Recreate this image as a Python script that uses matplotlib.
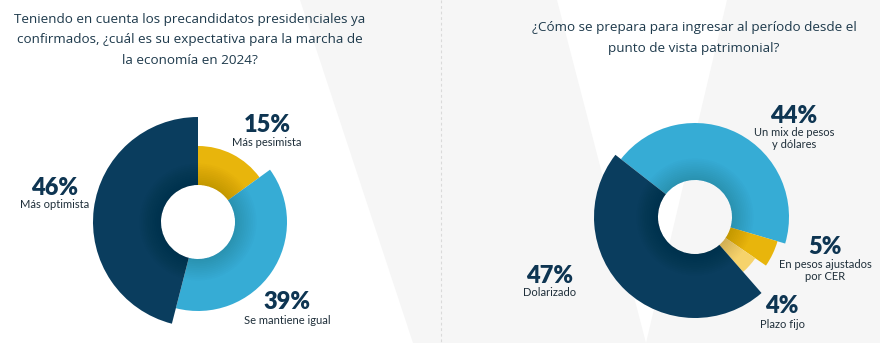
import matplotlib
matplotlib.use("Agg")
import matplotlib.pyplot as plt
from matplotlib.patches import Polygon, Wedge

# survey answers, left question
left_labels = ["Más pesimista", "Se mantiene igual", "Más optimista"]
left_values = [15, 39, 46]

# survey answers, right question
right_labels = ["Un mix de pesos\ny dólares", "En pesos ajustados\npor CER", "Plazo fijo", "Dolarizado"]
right_values = [44, 5, 4, 47]

left_title = ("Teniendo en cuenta los precandidatos presidenciales ya\n"
              "confirmados, ¿cuál es su expectativa para la marcha de\n"
              "la economía en 2024?")
right_title = ("¿Cómo se prepara para ingresar al período desde el\n"
               "punto de vista patrimonial?")

NAVY = "#0a3d5e"
BLUE = "#36acd5"
YELLOW = "#e8b50c"
PALE = "#f6d36c"
TEXT = "#0e3552"
TITLE = "#1e3a4c"

W, H = 880, 343
fig = plt.figure(figsize=(W / 100, H / 100), dpi=100)
fig.patch.set_facecolor("white")

# background in pixel coordinates
bg = fig.add_axes([0, 0, 1, 1], zorder=0)
bg.set_xlim(0, W)
bg.set_ylim(H, 0)
bg.axis("off")
gray = "#f6f6f6"
bg.add_patch(Polygon([(300, 0), (557, 0), (646, H), (413, H)], closed=True, fc=gray, ec="none"))
bg.add_patch(Polygon([(727, 0), (W, 0), (W, H), (646, H)], closed=True, fc=gray, ec="none"))
bg.plot([441, 441], [0, H], color="#dadada", lw=0.8, ls=(0, (2.5, 2.5)))

plt.rcParams["font.family"] = ["Lato", "DejaVu Sans"]

bg.text(190, 40, left_title, ha="center", va="center", fontsize=9.7,
        color=TITLE, linespacing=1.72, family=["Open Sans", "DejaVu Sans"])
bg.text(694, 38, right_title, ha="center", va="center", fontsize=9.7,
        color=TITLE, linespacing=1.72, family=["Open Sans", "DejaVu Sans"])


def donut(cx, cy, values, colors, radii, start):
    half = 118
    ax = fig.add_axes([(cx - half) / W, (H - cy - half) / H, 2 * half / W, 2 * half / H], zorder=2)
    inner = 37
    wedges, _ = ax.pie(values, colors=colors, startangle=start, counterclock=False,
                       radius=100, wedgeprops=dict(width=63, linewidth=0))
    for w, r in zip(wedges, radii):
        w.set_radius(r)
        w.set_width(r - inner)
    # soft shading around the hole
    n = 12
    for k in range(n):
        ax.add_patch(Wedge((0, 0), inner + (n - k) * 1.8, 0, 360,
                           width=(n - k) * 1.8, fc="black", alpha=0.012, lw=0))
    ax.set_xlim(-half, half)
    ax.set_ylim(-half, half)
    ax.axis("off")
    return ax


donut(198, 222, left_values, [YELLOW, BLUE, NAVY], [76, 89, 105], 90)
donut(695, 217, right_values, [BLUE, YELLOW, PALE, NAVY], [94, 86, 73, 101], 142)


def label(x, y, value, text, dy=17):
    bg.text(x, y, f"{value}%", ha="center", va="center", fontsize=17,
            fontweight="heavy", color=TEXT)
    bg.text(x, y + dy, text, ha="center", va="top" if "\n" in text else "center",
            fontsize=8, color="#1f2f3a", linespacing=1.1)


label(267, 125, left_values[0], left_labels[0], 18)
label(287, 302, left_values[1], left_labels[1], 18)
label(55, 188, left_values[2], left_labels[2], 16)

label(794, 116, right_values[0], right_labels[0], 11)
label(825, 247, right_values[1], right_labels[1], 12)
label(782, 306, right_values[2], right_labels[2], 18)
label(550, 276, right_values[3], right_labels[3], 17)

fig.savefig("out.png", dpi=100, facecolor="white")
